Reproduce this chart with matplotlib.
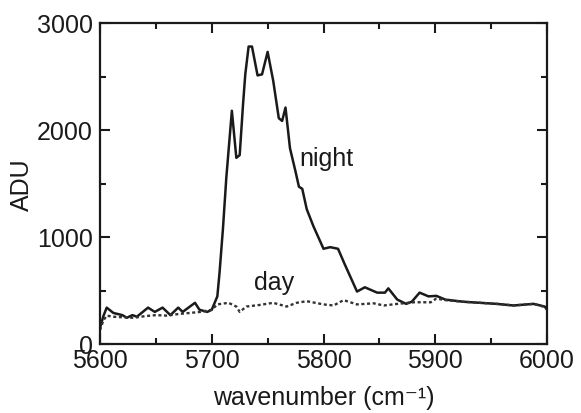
import matplotlib
matplotlib.use("Agg")
import matplotlib.pyplot as plt
from matplotlib.ticker import MultipleLocator

night_x = [5600, 5603, 5606, 5612, 5620, 5624, 5629, 5633, 5643, 5649, 5656, 5663, 5670, 5674,
           5685, 5689, 5696, 5700, 5705, 5707, 5710, 5712, 5713, 5718, 5722, 5725, 5728, 5730,
           5733, 5736, 5741, 5745, 5750, 5755, 5760, 5763, 5766, 5770, 5775, 5778, 5781, 5785,
           5791, 5800, 5806, 5813, 5819, 5830, 5837, 5848, 5855, 5858, 5866, 5874, 5879, 5886,
           5894, 5901, 5909, 5925, 5940, 5955, 5970, 5988, 5998, 6000]
night_y = [150, 260, 340, 290, 270, 245, 270, 255, 340, 300, 340, 270, 340, 300,
           385, 320, 300, 320, 445, 670, 1075, 1390, 1550, 2180, 1740, 1765, 2240, 2520,
           2780, 2780, 2510, 2520, 2730, 2460, 2110, 2085, 2210, 1830, 1610, 1470, 1450, 1260,
           1100, 890, 905, 890, 745, 490, 530, 480, 480, 520, 415, 375, 395, 480,
           445, 450, 415, 395, 385, 375, 360, 375, 350, 320]

day_x = [5600, 5603, 5606, 5612, 5620, 5630, 5640, 5650, 5660, 5670, 5680, 5690, 5700, 5705,
         5715, 5722, 5725, 5731, 5743, 5755, 5767, 5776, 5785, 5800, 5809, 5818, 5830, 5845,
         5854, 5866, 5881, 5896, 5901, 5909, 5925, 5940, 5955, 5970, 5988, 6000]
day_y = [130, 220, 265, 255, 250, 245, 260, 270, 265, 280, 290, 300, 320, 370,
         385, 350, 300, 350, 365, 385, 350, 385, 400, 370, 360, 410, 370, 380,
         360, 375, 390, 390, 425, 410, 395, 385, 375, 360, 375, 340]

xticks = [5600, 5700, 5800, 5900, 6000]
yticks = [0, 1000, 2000, 3000]

plt.rcParams['font.family'] = ['Liberation Sans', 'DejaVu Sans']

fig = plt.figure(figsize=(5.81, 4.14), dpi=100)
ax = fig.add_axes([100/581, 1-345/414, 447/581, 321/414])

ax.plot(night_x, night_y, color='#1a1a1a', lw=1.8)
ax.plot(day_x, day_y, color='#333333', lw=1.7, linestyle=(0, (1.3, 1.1)))

ax.set_xlim(5600, 6000)
ax.set_ylim(0, 3000)
ax.set_xticks(xticks)
ax.set_yticks(yticks)
ax.xaxis.set_minor_locator(MultipleLocator(50))
ax.yaxis.set_minor_locator(MultipleLocator(500))
ax.tick_params(which='both', direction='in', top=True, right=True, labelsize=18,
               width=1.5, color='#1a1a1a', labelcolor='#1a1a1a')
ax.tick_params(axis='x', pad=3)
ax.tick_params(axis='y', pad=5)
ax.tick_params(which='major', length=7)
ax.tick_params(which='minor', length=4.5)
for s in ax.spines.values():
    s.set_linewidth(1.6)
    s.set_color('#1a1a1a')

ax.set_xlabel('wavenumber (cm\u207b\u00b9)', fontsize=18, color='#1a1a1a', labelpad=9)
ax.set_ylabel('ADU', fontsize=18, color='#1a1a1a', labelpad=2)

ax.text(5803, 1736, 'night', fontsize=18, ha='center', va='center', color='#1a1a1a')
ax.text(5756, 575, 'day', fontsize=18, ha='center', va='center', color='#1a1a1a')

fig.savefig('out.png', dpi=100)
